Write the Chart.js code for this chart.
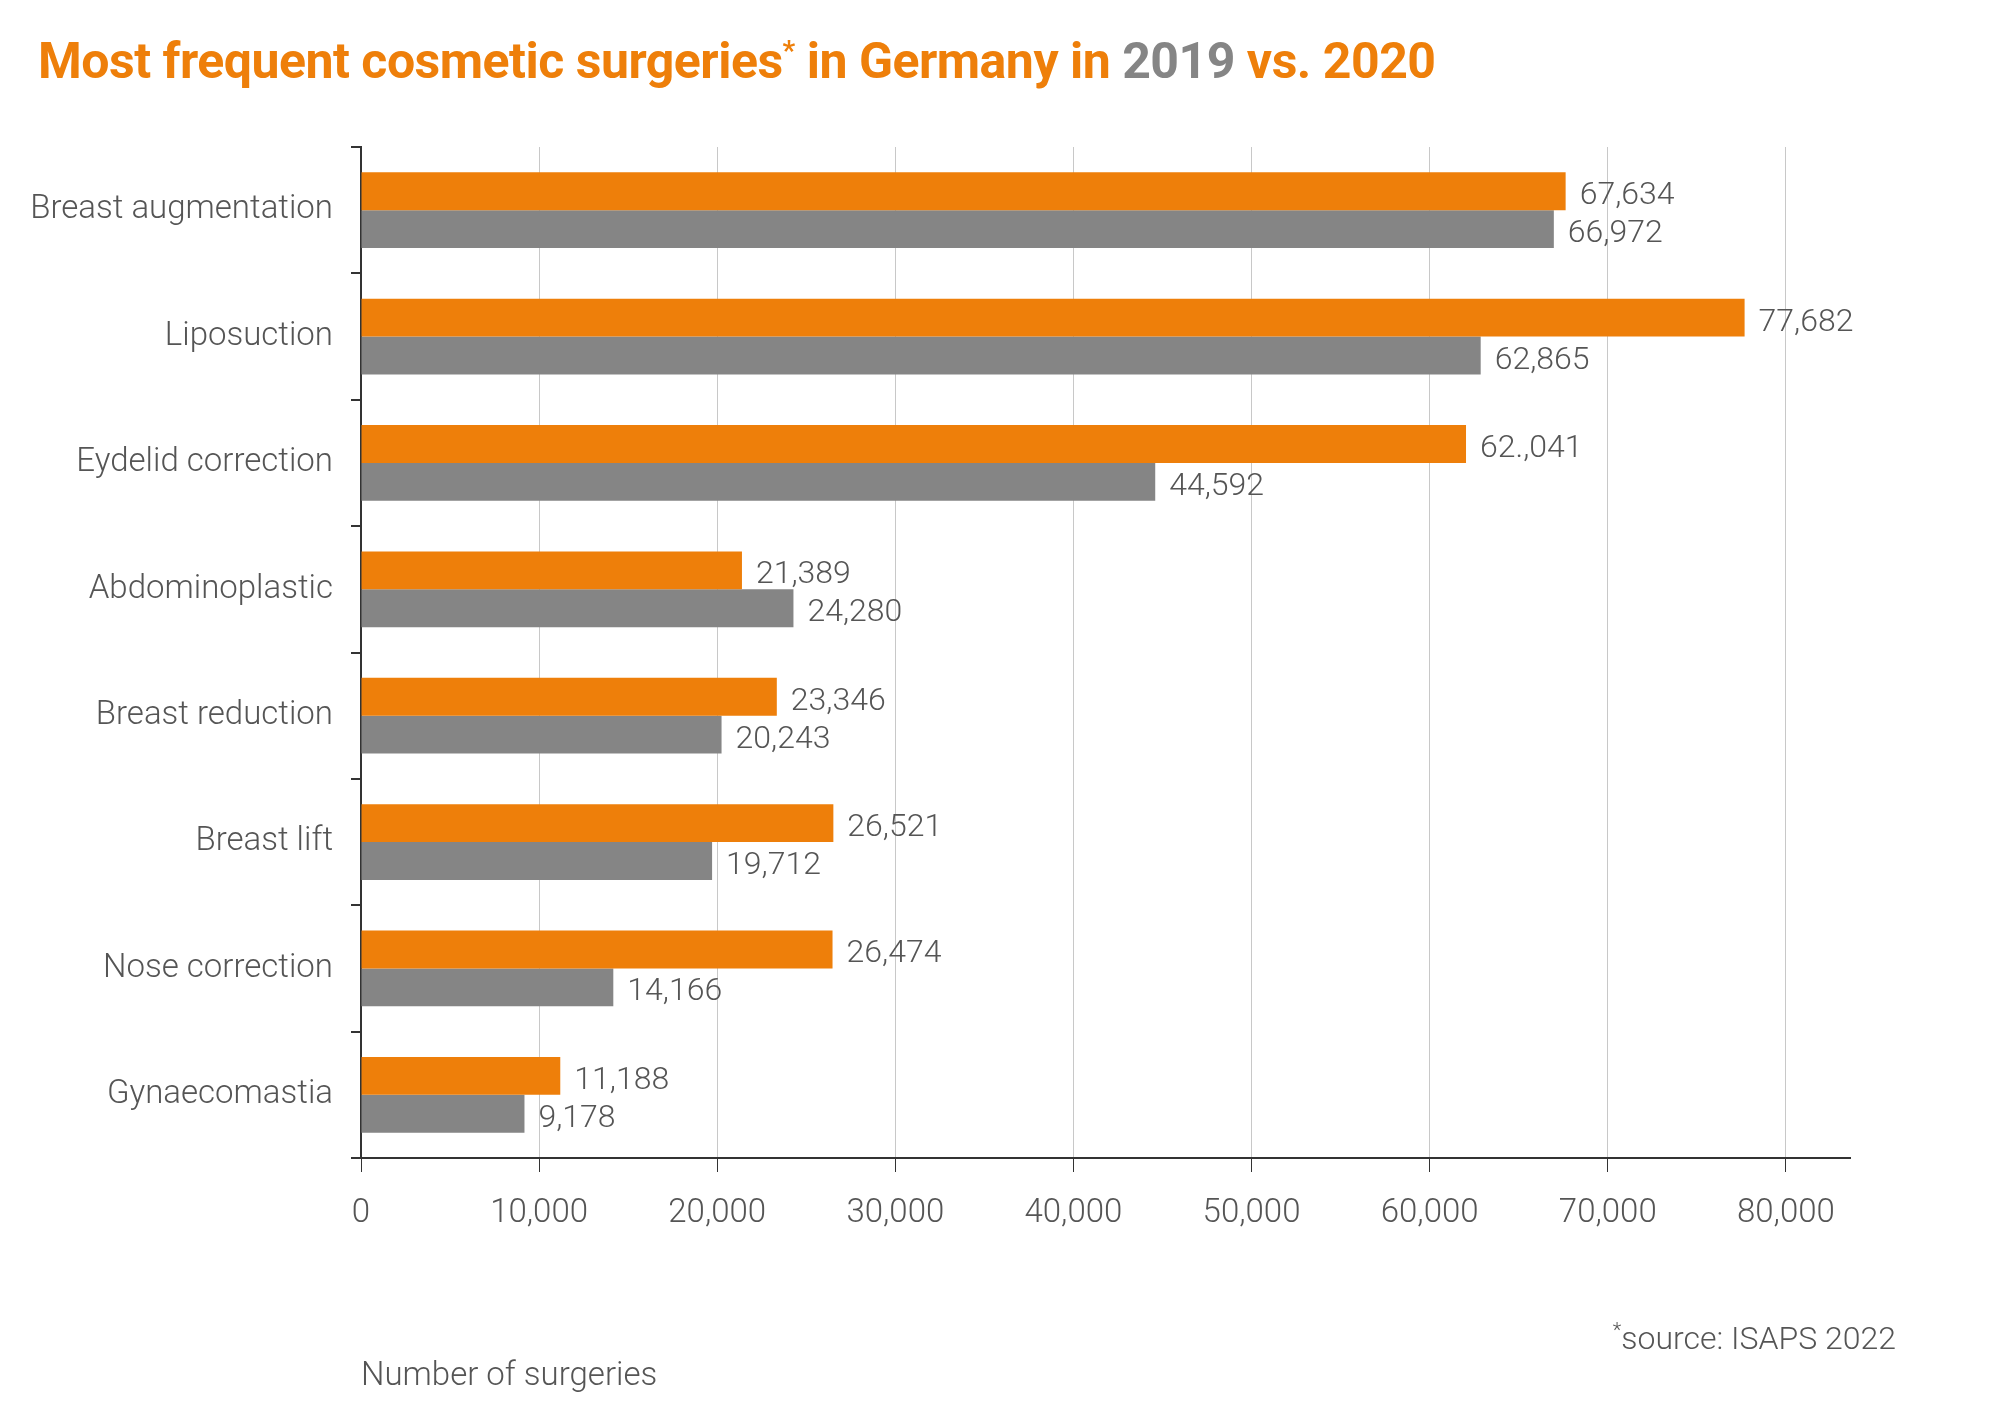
<!DOCTYPE html>
<html>
<head>
<meta charset="utf-8">
<script src="https://cdn.jsdelivr.net/npm/chart.js@4"></script>
<style>
  body { margin: 0; background: #fff; font-family: Roboto, sans-serif; }
  #wrap { position: relative; width: 2000px; height: 1401px; }
  #title { position: absolute; left: 38px; top: 32px; font-size: 50px; font-weight: 700; color: #ee7f0a; letter-spacing: -0.5px; }
  #title sup { font-size: 28px; }
  #title .gray { color: #858585; }
  #note { position: absolute; right: 104px; top: 1318px; font-size: 32px; font-weight: 300; color: #555; }
  #note sup { font-size: 20px; }
</style>
</head>
<body>
<div id="wrap">
  <canvas id="c" width="2000" height="1401"></canvas>
  <div id="title">Most frequent cosmetic surgeries<sup>*</sup> in Germany in <span class="gray">2019</span> vs. 2020</div>
  <div id="note"><sup>*</sup>source: ISAPS 2022</div>
</div>
<script>
const categories = ['Breast augmentation', 'Liposuction', 'Eydelid correction', 'Abdominoplastic',
  'Breast reduction', 'Breast lift', 'Nose correction', 'Gynaecomastia'];
const values2020 = [67634, 77682, 62041, 21389, 23346, 26521, 26474, 11188];
const values2019 = [66972, 62865, 44592, 24280, 20243, 19712, 14166, 9178];
const labels2020 = ['67,634', '77,682', '62.,041', '21,389', '23,346', '26,521', '26,474', '11,188'];
const labels2019 = ['66,972', '62,865', '44,592', '24,280', '20,243', '19,712', '14,166', '9,178'];
const xTicks = [0, 10000, 20000, 30000, 40000, 50000, 60000, 70000, 80000];

const valueLabels = {
  id: 'valueLabels',
  afterDatasetsDraw(chart) {
    const ctx = chart.ctx;
    ctx.save();
    ctx.font = '300 32px Roboto';
    ctx.fillStyle = '#555';
    ctx.textBaseline = 'middle';
    chart.data.datasets.forEach((ds, i) => {
      const texts = i === 0 ? labels2020 : labels2019;
      chart.getDatasetMeta(i).data.forEach((bar, j) => {
        ctx.fillText(texts[j], bar.x + 14, bar.y + 5);
      });
    });
    ctx.restore();
  }
};

new Chart(document.getElementById('c'), {
  type: 'bar',
  data: {
    labels: categories,
    datasets: [
      { label: '2020', data: values2020, backgroundColor: '#ee7f0a', categoryPercentage: 0.6, barPercentage: 1 },
      { label: '2019', data: values2019, backgroundColor: '#858585', categoryPercentage: 0.6, barPercentage: 1 }
    ]
  },
  options: {
    indexAxis: 'y',
    responsive: false,
    animation: false,
    layout: { padding: { top: 147, right: 150, left: 0, bottom: 0 } },
    plugins: { legend: { display: false }, tooltip: { enabled: false } },
    scales: {
      x: {
        min: 0, max: 83600,
        afterBuildTicks: s => { s.ticks = xTicks.map(v => ({ value: v })); },
        afterFit: s => { s.height = 243; },
        ticks: {
          font: { family: 'Roboto', size: 33, weight: 300 }, color: '#555', padding: 22,
          callback: v => v.toLocaleString('en-US')
        },
        grid: { color: '#c8c8c8', borderDash: [2, 3], tickColor: '#333', tickLength: 14, tickBorderDash: [] },
        border: { color: '#333', width: 2, dash: [] },
        title: {
          display: true, text: 'Number of surgeries', align: 'start',
          font: { family: 'Roboto', size: 33, weight: 300 }, color: '#555', padding: { top: 18 }
        }
      },
      y: {
        afterFit: s => { s.width = 361; },
        ticks: { font: { family: 'Roboto', size: 33, weight: 300 }, color: '#555', padding: 18 },
        grid: { offset: true, drawOnChartArea: false, tickColor: '#333', tickLength: 10, lineWidth: 2 },
        border: { color: '#333', width: 2 }
      }
    }
  },
  plugins: [valueLabels]
});
</script>
</body>
</html>
